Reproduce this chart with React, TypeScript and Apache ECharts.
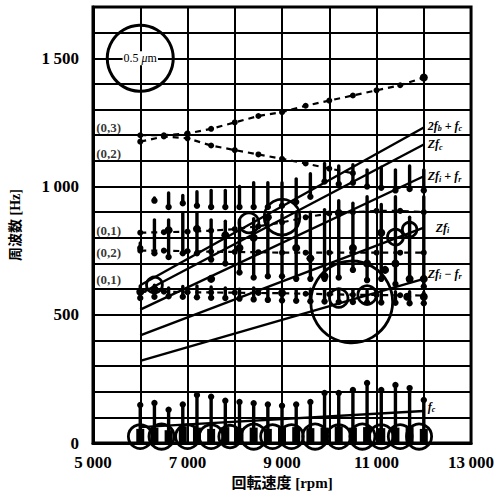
import React, { useEffect, useRef } from "react";
import * as echarts from "echarts";

// ---- axis ----
const X_MIN = 5000;
const X_MAX = 13000;
const Y_MIN = 0;
const Y_MAX = 1700;
const xTicks = [5000, 7000, 9000, 11000, 13000];
const yTicks = [0, 500, 1000, 1500];

// ---- straight excitation-frequency lines (rpm 6000 -> 12000) ----
const lineRpm = [6000, 12000];
const lineKeys = ["2fb+fc", "Zfc", "Zfi+fr", "Zfi", "Zfi-fr", "fc"];
const lineRich = [
  "{m|2f}{s|b}{m| + f}{s|c}",
  "{m|Zf}{s|c}",
  "{m|Zf}{s|i}{m| + f}{s|r}",
  "{m|Zf}{s|i}",
  "{m|Zf}{s|i}{m| − f}{s|r}",
  "{m|f}{s|c}",
];
const lineStartHz = [615, 582, 520, 420, 320, 62];
const lineEndHz = [1230, 1164, 1040, 840, 640, 125];

// ---- natural-frequency mode curves (dashed) ----
const modeRpm = [6000, 6500, 7000, 7500, 8000, 8500, 9000, 9500, 10000, 10500, 11000, 11500, 12000];
const mode03 = [1200, 1200, 1207, 1225, 1250, 1275, 1290, 1315, 1335, 1355, 1375, 1395, 1425];
const mode02Up = [1175, 1195, 1188, 1160, 1142, 1125, 1108, 1090, 1070, 1052, null, null, null];
const mode01Up = [820, 822, 824, 828, 834, 845, 860, 880, 895, 900, 905, 905, 900];
const mode02Low = [750, 750, 748, 746, 745, 744, 742, 742, 742, 742, 742, 742, 742];
const mode01Low = [590, 590, 588, 587, 586, 585, 584, 582, 580, 578, 577, 576, 575];

// mode labels
const modeLabelText = ["(0,3)", "(0,2)", "(0,1)", "(0,2)", "(0,1)"];
const modeLabelRpm = [5330, 5330, 5330, 5330, 5330];
const modeLabelHz = [1232, 1130, 830, 741, 638];

// ---- spectral peak marks (vertical bars) ----
const markRpm = [6000, 6300, 6600, 6900, 7200, 7500, 7800, 8100, 8400, 8700, 9000, 9300, 9600, 9900, 10200, 10500, 10800, 11100, 11400, 11700, 12000];
const upperLo = [null, 945, 920, 935, 925, 920, 920, 920, 920, 920, 925, 940, 960, 1020, 1010, 1015, 1000, 995, 985, 990, 985];
const upperHi = [null, 955, 975, 965, 980, 985, 985, 1000, 1015, 1015, 1015, 1030, 1050, 1090, 1080, 1085, 1065, 1075, 1065, 1080, 1065];
const midLo = [760, 740, 725, 740, 740, 715, 700, 665, 645, 650, 650, 640, 640, 640, 645, 675, 635, 640, 620, 635, 610];
const midHi = [780, 870, 870, 895, 895, 870, 865, 870, 875, 880, 890, 900, 900, 910, 945, 935, 960, 930, 960, 880, 960];
const lowMidLo = [565, 570, 572, 570, 568, 566, 565, 563, 560, 558, 556, 555, 553, 552, 550, 550, 548, 548, 547, 545, 545];
const lowMidHi = [612, 615, 605, 610, 612, 608, 605, 600, 605, 602, 600, 598, 600, 596, 598, 596, 594, 592, 590, 590, 588];
const lowHi = [148, 156, 130, 150, 187, 180, 165, 160, 155, 150, 145, 150, 160, 195, 195, 207, 234, 207, 226, 214, 168];
const baseHi = [55, 60, 50, 65, 60, 55, 62, 58, 60, 55, 60, 62, 58, 60, 65, 60, 62, 58, 60, 62, 55];

// ---- amplitude circles: [rpm, Hz, amplitude μm] ----
const refCircle = [6000, 1500, 0.5];
const ampCircles = [
  [6300, 616, 0.12],
  [8300, 858, 0.15],
  [9000, 881, 0.27],
  [10200, 565, 0.14],
  [10800, 577, 0.14],
  [10475, 550, 0.62],
  [11400, 803, 0.12],
  [11700, 832, 0.11],
  [6000, 25, 0.18],
  [6450, 25, 0.19],
  [7000, 25, 0.18],
  [7500, 25, 0.18],
  [7900, 25, 0.17],
  [8400, 25, 0.19],
  [8800, 25, 0.18],
  [9200, 25, 0.18],
  [9700, 25, 0.19],
  [10200, 25, 0.18],
  [10700, 25, 0.19],
  [11100, 25, 0.18],
  [11500, 25, 0.18],
  [11900, 25, 0.19],
];

// filled peak blobs [rpm, Hz]
const blobs = [
  [6000, 590], [6300, 600], [8700, 880], [9000, 585], [9600, 720], [10200, 897],
  [11180, 675], [11650, 570], [12000, 570], [12000, 640], [12000, 1425], [10500, 760],
  [11100, 820], [9900, 650], [8100, 760], [7500, 640], [6600, 830], [7200, 835],
  [7800, 810], [8400, 800], [9300, 760], [10800, 700], [11400, 700], [11700, 640],
];

const FONT = "'Liberation Serif', 'DejaVu Serif', 'Noto Sans CJK JP', serif";
const REF_DIAM = 66; // px diameter for 0.5 μm

function fmtNum(v: number): string {
  const s = String(v);
  if (s.length <= 3) return s;
  return s.slice(0, s.length - 3) + "\u2009" + s.slice(s.length - 3);
}

export default function App() {
  const ref = useRef<HTMLDivElement>(null);
  useEffect(() => {
    if (!ref.current) return;
    const chart = echarts.init(ref.current, undefined, { renderer: "svg" });

    const barData: number[][] = [];
    markRpm.forEach((r, i) => {
      if (upperLo[i] != null) barData.push([r, upperLo[i] as number, upperHi[i] as number]);
      barData.push([r, midLo[i], midHi[i]]);
      barData.push([r, lowMidLo[i], lowMidHi[i]]);
      barData.push([r, 0, lowHi[i]]);
      barData.push([r, -1, baseHi[i]]);
    });

    const lineSeries = lineKeys.map((k, i) => ({
      type: "line",
      name: k,
      data: [
        [lineRpm[0], lineStartHz[i]],
        [lineRpm[1], lineEndHz[i]],
      ],
      symbol: "none",
      lineStyle: { color: "#000", width: 2.4, opacity: 1 },
      z: 4,
      endLabel: {
        show: true,
        formatter: lineRich[i],
        distance: k === "Zfi" ? 12 : 4,
        offset: k === "2fb+fc" ? [0, -2] : k === "Zfi-fr" ? [0, -5] : k === "fc" ? [0, -4] : [0, 0],
        rich: {
          m: { fontFamily: FONT, fontStyle: "italic", fontWeight: "bold", fontSize: 12, color: "#000" },
          s: { fontFamily: FONT, fontStyle: "italic", fontWeight: "bold", fontSize: 8, color: "#000", padding: [6, 0, 0, 0] },
        },
      },
    }));

    const modeSeries = [mode03, mode02Up, mode01Up, mode02Low, mode01Low].map((arr) => ({
      type: "line",
      data: modeRpm.map((r, i) => [r, arr[i]]).filter((p) => p[1] != null),
      symbol: "circle",
      symbolSize: 6,
      itemStyle: { color: "#000", opacity: 1 },
      lineStyle: { color: "#000", width: 2.2, type: [6, 5] },
      z: 4,
    }));

    const option: any = {
      animation: false,
      backgroundColor: "#fff",
      grid: { left: 88, right: 22, top: 7, bottom: 59, show: true, borderColor: "#000", borderWidth: 3 },
      xAxis: {
        type: "value",
        min: X_MIN,
        max: X_MAX,
        interval: 1000,
        name: "回転速度 [rpm]",
        nameLocation: "middle",
        nameGap: 31,
        nameTextStyle: { fontFamily: FONT, fontSize: 15, color: "#000", fontWeight: "bold" },
        axisLine: { show: true, lineStyle: { color: "#000", width: 3 } },
        axisTick: { show: false },
        splitLine: { show: true, lineStyle: { color: "#000", width: 2 } },
        axisLabel: {
          color: "#000",
          fontFamily: FONT,
          fontSize: 17,
          fontWeight: "bold",
          margin: 11,
          formatter: (v: number) => (xTicks.includes(v) ? fmtNum(v) : ""),
        },
      },
      yAxis: {
        type: "value",
        min: Y_MIN,
        max: Y_MAX,
        interval: 100,
        name: "周波数 [Hz]",
        nameLocation: "middle",
        nameGap: 71,
        nameRotate: 90,
        nameTextStyle: { fontFamily: FONT, fontSize: 14, color: "#000", fontWeight: "bold" },
        axisLine: { show: true, lineStyle: { color: "#000", width: 3 } },
        axisTick: { show: false },
        splitLine: { show: true, lineStyle: { color: "#000", width: 2 } },
        axisLabel: {
          color: "#000",
          fontFamily: FONT,
          fontSize: 17,
          fontWeight: "bold",
          margin: 14,
          formatter: (v: number) => (yTicks.includes(v) ? fmtNum(v) : ""),
        },
      },
      series: [
        {
          type: "custom",
          data: barData,
          encode: { x: 0, y: [1, 2] },
          clip: true,
          z: 3,
          renderItem: (params: any, api: any) => {
            const lo = api.value(1);
            const base = lo < 0;
            const p1 = api.coord([api.value(0), base ? 0 : lo]);
            const p2 = api.coord([api.value(0), api.value(2)]);
            const children: any[] = [
              {
                type: "line",
                shape: { x1: p1[0], y1: p1[1], x2: p2[0], y2: p2[1] },
                style: { stroke: "#000", lineWidth: base ? 8 : 3.4, lineCap: base ? "butt" : "round" },
              },
            ];
            if (!base) {
              children.push({
                type: "circle",
                shape: { cx: lo > 0 ? p1[0] : p2[0], cy: lo > 0 ? p1[1] : p2[1], r: 3.2 },
                style: { fill: "#000" },
              });
            }
            return { type: "group", children };
          },
        },
        ...lineSeries,
        ...modeSeries,
        {
          type: "scatter",
          data: ampCircles,
          symbol: "circle",
          symbolSize: (v: number[]) => (v[2] / refCircle[2]) * REF_DIAM,
          itemStyle: { color: "rgba(0,0,0,0)", borderColor: "#000", borderWidth: 2.8, opacity: 1 },
          z: 5,
        },
        {
          type: "scatter",
          data: [refCircle],
          symbol: "circle",
          symbolSize: (v: number[]) => (v[2] / refCircle[2]) * REF_DIAM,
          itemStyle: { color: "rgba(0,0,0,0)", borderColor: "#000", borderWidth: 3, opacity: 1 },
          label: {
            show: true,
            position: "inside",
            formatter: "0.5 {u|μ}m",
            fontFamily: FONT,
            fontSize: 12,
            color: "#000",
            backgroundColor: "#fff",
            padding: [1, 1],
            rich: { u: { fontFamily: FONT, fontSize: 12, fontStyle: "italic", color: "#000" } },
          },
          z: 6,
        },
        {
          type: "scatter",
          data: blobs,
          symbol: "circle",
          symbolSize: 8,
          itemStyle: { color: "#000", opacity: 1 },
          z: 5,
        },
        {
          type: "scatter",
          data: modeLabelText.map((t, i) => ({ value: [modeLabelRpm[i], modeLabelHz[i]], name: t })),
          symbolSize: 0,
          label: {
            show: true,
            position: "inside",
            formatter: "{b}",
            fontFamily: FONT,
            fontSize: 13,
            fontWeight: "bold",
            color: "#000",
          },
          z: 6,
        },
      ],
    };
    chart.setOption(option);
    return () => chart.dispose();
  }, []);
  return (
    <div
      ref={ref}
      style={{ position: "fixed", left: 0, top: 0, width: 497, height: 502, background: "#fff" }}
    />
  );
}
